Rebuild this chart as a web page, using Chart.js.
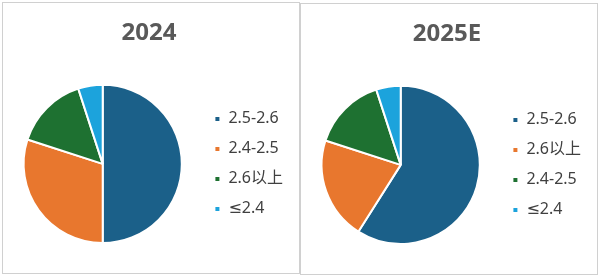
<!DOCTYPE html>
<html>
<head>
<meta charset="utf-8">
<script src="https://cdn.jsdelivr.net/npm/chart.js@4"></script>
<style>
  html, body { margin: 0; padding: 0; background: #fff; }
  .panel { position: absolute; width: 296px; height: 270px; border: 1px solid #d0d0d0; }
  #p1 { left: 2px; top: 2px; }
  #p2 { left: 300px; top: 3px; }
</style>
</head>
<body>
<div class="panel" id="p1"><canvas id="c1"></canvas></div>
<div class="panel" id="p2"><canvas id="c2"></canvas></div>
<script>
// 2024 share by category
const labels2024 = ['2.5-2.6', '2.4-2.5', '2.6以上', '≤2.4']
const values2024 = [50, 30, 15, 5]
const colors2024 = ['#1B6089', '#E8772E', '#1E7131', '#1CA3DC']

// 2025E share by category
const labels2025 = ['2.5-2.6', '2.6以上', '2.4-2.5', '≤2.4']
const values2025 = [59, 21, 15, 5]
const colors2025 = ['#1B6089', '#E8772E', '#1E7131', '#1CA3DC']

const font = '"Noto Sans", "DejaVu Sans", "Noto Sans CJK SC", sans-serif'

function makePie(id, title, labels, values, colors) {
    return new Chart(document.getElementById(id), {
        type: 'pie',
        data: {
            labels: labels,
            datasets: [
                {
                    data: values,
                    backgroundColor: colors,
                    borderColor: '#fff',
                    borderWidth: 2,
                },
            ],
        },
        options: {
            responsive: true,
            maintainAspectRatio: false,
            animation: false,
            layout: { padding: { left: 2, right: 6, bottom: 29 } },
            plugins: {
                title: {
                    display: true,
                    text: title,
                    color: '#595959',
                    font: { family: font, size: 24, weight: 'bold' },
                    padding: { top: 16, bottom: 36 },
                },
                legend: {
                    position: 'right',
                    fullSize: false,
                    labels: {
                        boxWidth: 6,
                        boxHeight: 6,
                        padding: 14,
                        color: '#404040',
                        font: { family: font, size: 16 },
                    },
                },
                tooltip: { enabled: false },
            },
        },
    })
}

makePie('c1', '2024', labels2024, values2024, colors2024)
makePie('c2', '2025E', labels2025, values2025, colors2025)
</script>
</body>
</html>
